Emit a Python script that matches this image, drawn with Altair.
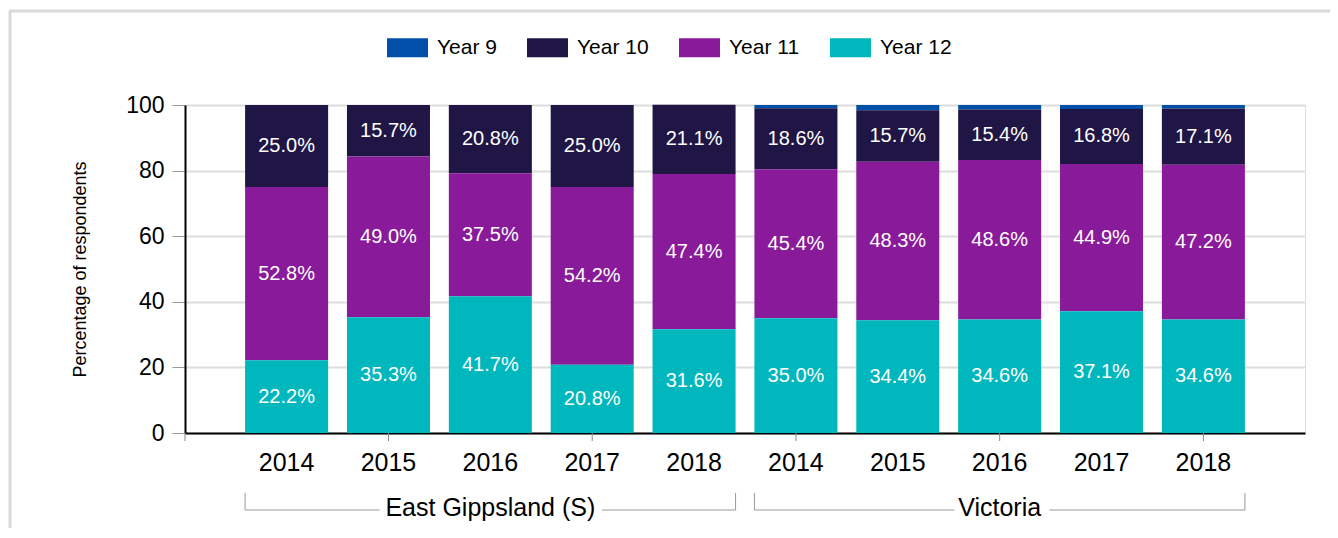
import altair as alt
import pandas as pd

regions = ["East Gippsland (S)", "Victoria"]
years = ["2014", "2015", "2016", "2017", "2018"]
series = ["Year 9", "Year 10", "Year 11", "Year 12"]
colors = ["#004fa8", "#1f1646", "#891a9a", "#00b7bd"]

year9 = [0.0, 0.0, 0.0, 0.0, 0.0, 1.0, 1.6, 1.4, 1.2, 1.1]
year10 = [25.0, 15.7, 20.8, 25.0, 21.1, 18.6, 15.7, 15.4, 16.8, 17.1]
year11 = [52.8, 49.0, 37.5, 54.2, 47.4, 45.4, 48.3, 48.6, 44.9, 47.2]
year12 = [22.2, 35.3, 41.7, 20.8, 31.6, 35.0, 34.4, 34.6, 37.1, 34.6]

keys = [f"{r}|{y}" for r in regions for y in years]
values = {"Year 9": year9, "Year 10": year10, "Year 11": year11, "Year 12": year12}
stack_order = {"Year 12": 0, "Year 11": 1, "Year 10": 2, "Year 9": 3}

rows = []
for s in series:
    for k, v in zip(keys, values[s]):
        rows.append({"key": k, "series": s, "value": v, "order": stack_order[s]})
df = pd.DataFrame(rows)

brackets = pd.DataFrame([
    {"region": r, "first": f"{r}|{years[0]}", "last": f"{r}|{years[-1]}", "mid": f"{r}|{years[2]}"}
    for r in regions
])
tick_keys = pd.DataFrame({"key": keys[1::2]})

FONT = "Liberation Sans"

xscale = alt.Scale(domain=keys, paddingInner=0.185, paddingOuter=0.59)
xaxis = alt.Axis(title=None, labelExpr="split(datum.value, '|')[1]",
                 labelFontSize=25, labelColor="black", labelFont=FONT,
                 labelPadding=17, ticks=False, domainColor="black",
                 domainWidth=2, labelAngle=0, grid=False)

bars = alt.Chart(df).mark_bar().encode(
    x=alt.X("key:N", scale=xscale, sort=keys, axis=xaxis),
    y=alt.Y("value:Q", stack="zero",
            scale=alt.Scale(domain=[0, 100], nice=False),
            axis=alt.Axis(title="Percentage of respondents", values=[0, 20, 40, 60, 80, 100],
                          labelFontSize=23, labelColor="black", labelFont=FONT,
                          labelPadding=8, tickSize=13, tickColor="#999999", tickWidth=1,
                          domainColor="black", domainWidth=2,
                          gridColor="#dddddd", gridWidth=2,
                          titleFontSize=18, titleFont=FONT, titleColor="black",
                          titleFontWeight="normal", titleAngle=270,
                          titleBaseline="middle", titleAlign="center",
                          titleX=-105, titleY=164)),
    color=alt.Color("series:N", scale=alt.Scale(domain=series, range=colors),
                    legend=alt.Legend(title=None, orient="none", direction="horizontal",
                                      legendX=202, legendY=-78,
                                      symbolType="M-1,-0.46H1V0.46H-1Z", symbolSize=1681,
                                      symbolStrokeWidth=0, symbolOpacity=1,
                                      labelFontSize=21, labelFont=FONT, labelColor="black",
                                      labelOffset=9, columnPadding=30, padding=0)),
    order=alt.Order("order:Q"),
)

labels = alt.Chart(df).transform_filter(
    "datum.series != 'Year 9' && datum.value > 0"
).transform_stack(
    stack="value", groupby=["key"], as_=["y0", "y1"], sort=[alt.SortField("order", "ascending")]
).transform_calculate(
    mid="(datum.y0 + datum.y1) / 2",
    label="format(datum.value, '.1f') + '%'"
).mark_text(color="white", fontSize=20, font=FONT, baseline="middle", align="center").encode(
    x=alt.X("key:N", scale=xscale, sort=keys, axis=xaxis),
    y=alt.Y("mid:Q"),
    text="label:N",
)

xticks = alt.Chart(tick_keys).mark_rule(color="#888888", strokeWidth=1).encode(
    x=alt.X("key:N", scale=xscale, sort=keys, axis=xaxis),
    y=alt.value(328), y2=alt.value(336),
)
xtick0 = alt.Chart(alt.Data(values=[{"a": 1}])).mark_rule(color="#888888", strokeWidth=1).encode(
    x=alt.value(0), y=alt.value(328), y2=alt.value(336),
)

tick_left = alt.Chart(brackets).mark_rule(color="#999999", strokeWidth=1).encode(
    x=alt.X("first:N", bandPosition=0, scale=xscale, sort=keys, axis=xaxis),
    y=alt.value(388), y2=alt.value(405),
)
tick_right = alt.Chart(brackets).mark_rule(color="#999999", strokeWidth=1).encode(
    x=alt.X("last:N", bandPosition=1, scale=xscale, sort=keys, axis=xaxis),
    y=alt.value(388), y2=alt.value(405),
)
hline = alt.Chart(brackets).mark_rule(color="#999999", strokeWidth=1).encode(
    x=alt.X("first:N", bandPosition=0, scale=xscale, sort=keys, axis=xaxis),
    x2=alt.X2("last:N", bandPosition=1),
    y=alt.value(405),
)
halo = alt.Chart(brackets).mark_text(fontSize=25, font=FONT, color="white", stroke="white",
                                     strokeWidth=16, baseline="middle").encode(
    x=alt.X("mid:N", scale=xscale, sort=keys, axis=xaxis), y=alt.value(403), text="region:N",
)
gtext = alt.Chart(brackets).mark_text(fontSize=25, font=FONT, color="black",
                                      baseline="middle").encode(
    x=alt.X("mid:N", scale=xscale, sort=keys, axis=xaxis), y=alt.value(403), text="region:N",
)

frame_data = alt.Data(values=[{"a": 1}])
frame_left = alt.Chart(frame_data).mark_rule(color="#d9d9d9", strokeWidth=3).encode(
    x=alt.value(-175), y=alt.value(-94), y2=alt.value(440),
)
frame_top = alt.Chart(frame_data).mark_rule(color="#d9d9d9", strokeWidth=3).encode(
    x=alt.value(-176), x2=alt.value(1160), y=alt.value(-94),
)

chart = alt.layer(
    frame_left, frame_top, bars, labels, xticks, xtick0,
    tick_left, tick_right, hline, halo, gtext
).properties(
    width=1120, height=328,
    autosize=alt.AutoSizeParams(type="none"),
    padding={"left": 177, "top": 97, "right": 25, "bottom": 95},
).configure_view(stroke=None).configure(background="white")

chart.save("out.html", embed_options={"renderer": "svg", "actions": False})
